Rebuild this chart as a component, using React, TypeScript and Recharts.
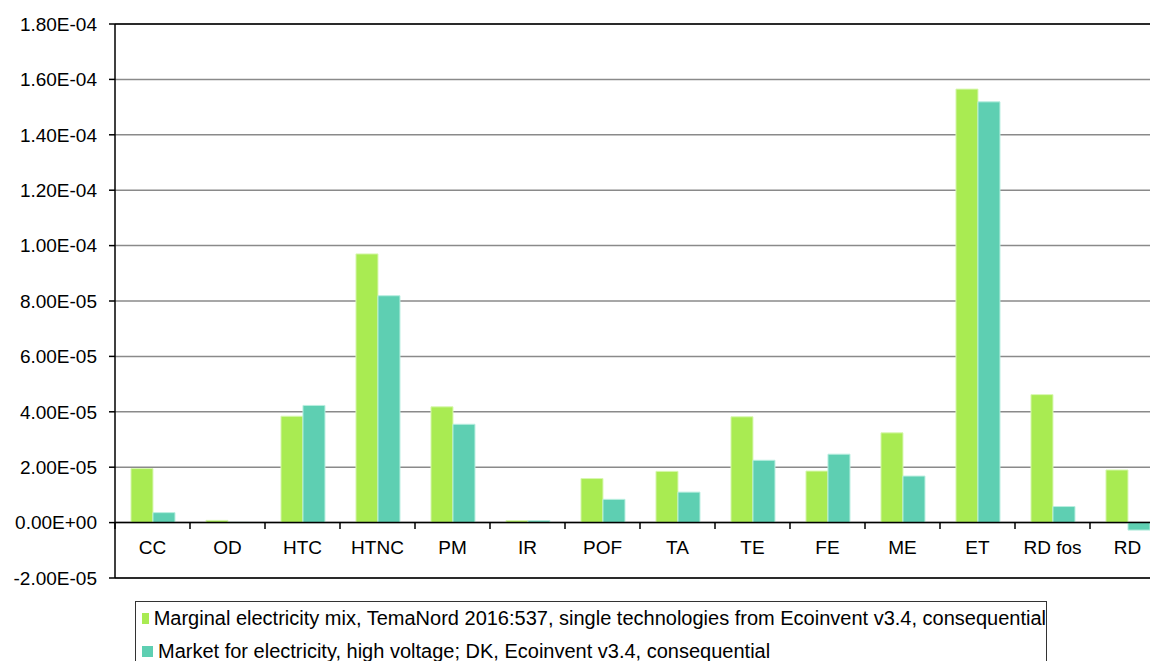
import React from 'react';
import {
  BarChart,
  Bar,
  XAxis,
  YAxis,
  CartesianGrid,
  ReferenceLine,
  Legend,
} from 'recharts';

const categories = ['CC', 'OD', 'HTC', 'HTNC', 'PM', 'IR', 'POF', 'TA', 'TE', 'FE', 'ME', 'ET', 'RD fos', 'RD'];
const marginalMix = [1.95e-5, 8e-7, 3.84e-5, 9.7e-5, 4.18e-5, 7e-7, 1.59e-5, 1.85e-5, 3.82e-5, 1.86e-5, 3.24e-5, 1.565e-4, 4.62e-5, 1.9e-5];
const marketDK = [3.6e-6, 1e-7, 4.23e-5, 8.19e-5, 3.55e-5, 7e-7, 8.4e-6, 1.1e-5, 2.25e-5, 2.47e-5, 1.68e-5, 1.519e-4, 5.8e-6, -2.7e-6];
const yTicks = [-2e-5, 0, 2e-5, 4e-5, 6e-5, 8e-5, 1e-4, 1.2e-4, 1.4e-4, 1.6e-4, 1.8e-4];

const seriesNames = [
  'Marginal electricity mix, TemaNord 2016:537, single technologies from Ecoinvent v3.4, consequential',
  'Market for electricity, high voltage; DK, Ecoinvent v3.4, consequential',
];

const GREEN = '#a9eb52';
const TEAL = '#5ecfb2';
const FONT = '"Liberation Sans", Arial, sans-serif';

const data = categories.map((c, i) => ({ name: c, mix: marginalMix[i], dk: marketDK[i] }));

// Excel style scientific labels: 1.80E-04, 0.00E+00
const sci = (v: number) => {
  const [m, e] = v.toExponential(2).toUpperCase().split('E');
  const n = parseInt(e, 10);
  const sign = n < 0 ? '-' : '+';
  return `${m}E${sign}${String(Math.abs(n)).padStart(2, '0')}`;
};

const CategoryTick = ({ x, y, payload }: any) => {
  const half = 37.5; // half a category band
  return (
    <g>
      <line x1={x - half} x2={x - half} y1={y - 55} y2={y - 49} stroke="#000" strokeWidth={1.5} />
      <text x={x} y={y - 24} textAnchor="middle" fill="#000" fontSize={19} fontFamily={FONT}>
        {payload.value}
      </text>
    </g>
  );
};

const LegendBox = () => (
  <div
    style={{
      border: '1.5px solid #333',
      background: '#fff',
      fontFamily: FONT,
      fontSize: 20,
      color: '#000',
      height: 90,
      boxSizing: 'border-box',
    }}
  >
    {seriesNames.map((n, i) => (
      <div key={n} style={{ display: 'flex', alignItems: 'center', height: 33, whiteSpace: 'nowrap' }}>
        <span
          style={{
            display: 'inline-block',
            width: 11,
            height: 11,
            marginLeft: 6,
            marginRight: 5,
            background: i === 0 ? GREEN : TEAL,
          }}
        />
        {n}
      </div>
    ))}
  </div>
);

export default function App() {
  return (
    <div style={{ position: 'fixed', top: 0, left: 0, width: 1150, height: 661, overflow: 'hidden', background: '#fff' }}>
      <BarChart
        width={1170}
        height={661}
        data={data}
        margin={{ top: 24, right: 5, left: 0, bottom: 0 }}
        barCategoryGap="21.3%"
        barGap={0}
      >
        <CartesianGrid horizontal vertical={false} stroke="#8a8a8a" strokeWidth={1.5} />
        <YAxis
          width={115}
          domain={[-2e-5, 1.8e-4]}
          ticks={yTicks}
          tickFormatter={sci}
          axisLine={{ stroke: '#000', strokeWidth: 1.5 }}
          tickLine={{ stroke: '#000', strokeWidth: 1.5 }}
          tickSize={6}
          tickMargin={12}
          tick={{ fill: '#000', fontSize: 19, fontFamily: FONT }}
          interval={0}
        />
        <XAxis
          dataKey="name"
          height={83}
          interval={0}
          axisLine={{ stroke: '#000', strokeWidth: 1.5 }}
          tickLine={false}
          tickSize={0}
          tickMargin={0}
          tick={<CategoryTick />}
        />
        <ReferenceLine y={1.8e-4} stroke="#000" strokeWidth={1.5} />
        <Legend
          layout="horizontal"
          verticalAlign="middle"
          align="center"
          content={<LegendBox />}
          wrapperStyle={{ position: 'absolute', top: 601, left: 135, width: 912, height: 90 }}
        />
        <Bar dataKey="mix" name={seriesNames[0]} fill={GREEN} stroke="#d8f7b0" strokeWidth={1} isAnimationActive={false} />
        <Bar dataKey="dk" name={seriesNames[1]} fill={TEAL} stroke="#b8eedf" strokeWidth={1} isAnimationActive={false} />
        <ReferenceLine y={0} stroke="#000" strokeWidth={1.5} />
      </BarChart>
    </div>
  );
}
